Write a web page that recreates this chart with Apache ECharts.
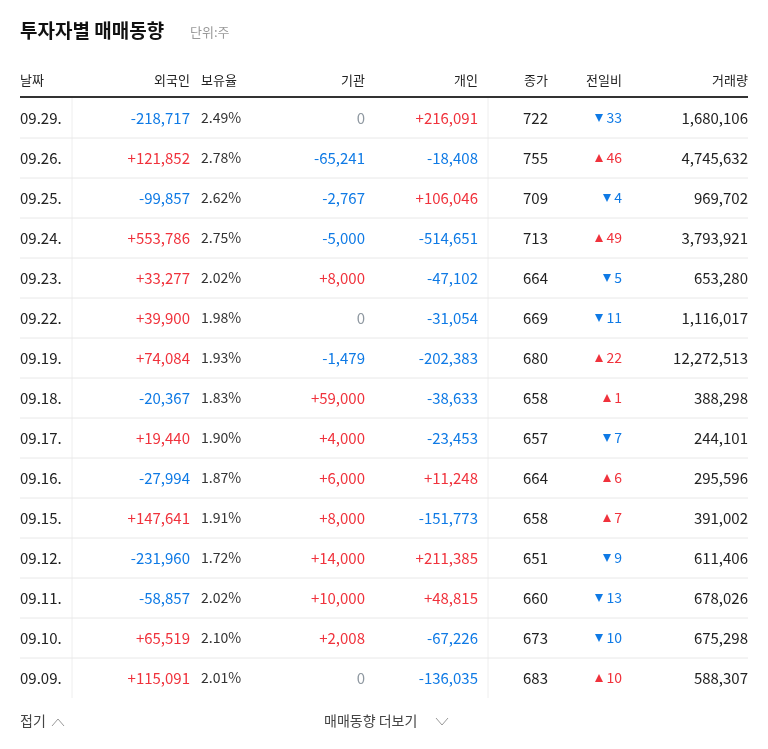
<!DOCTYPE html>
<html><head><meta charset="utf-8">
<script src="https://cdn.jsdelivr.net/npm/echarts@6/dist/echarts.min.js"></script>
<style>html,body{margin:0;background:#fff}#c{width:768px;height:749px}</style>
</head><body><div id="c"></div>
<script>
const headers = ['날짜', '외국인', '보유율', '기관', '개인', '종가', '전일비', '거래량'];
const dates = ['09.29.', '09.26.', '09.25.', '09.24.', '09.23.', '09.22.', '09.19.', '09.18.', '09.17.', '09.16.', '09.15.', '09.12.', '09.11.', '09.10.', '09.09.'];
const foreign = [-218717, 121852, -99857, 553786, 33277, 39900, 74084, -20367, 19440, -27994, 147641, -231960, -58857, 65519, 115091];
const holding = ['2.49%', '2.78%', '2.62%', '2.75%', '2.02%', '1.98%', '1.93%', '1.83%', '1.90%', '1.87%', '1.91%', '1.72%', '2.02%', '2.10%', '2.01%'];
const institution = [0, -65241, -2767, -5000, 8000, 0, -1479, 59000, 4000, 6000, 8000, 14000, 10000, 2008, 0];
const individual = [216091, -18408, 106046, -514651, -47102, -31054, -202383, -38633, -23453, 11248, -151773, 211385, 48815, -67226, -136035];
const close = [722, 755, 709, 713, 664, 669, 680, 658, 657, 664, 658, 651, 660, 673, 683];
const change = [-33, 46, -4, 49, -5, -11, 22, 1, -7, 6, 7, -9, -13, -10, 10];
const volume = [1680106, 4745632, 969702, 3793921, 653280, 1116017, 12272513, 388298, 244101, 295596, 391002, 611406, 678026, 675298, 588307];

const RED = '#f0323c', BLUE = '#0f7ae5', GRAY = '#8e97a0', TXT = '#222';
const FONT = '"Noto Sans CJK KR", sans-serif';
const fmt = v => v.toLocaleString('en-US');
const signed = v => v === 0 ? '0' : (v > 0 ? '+' : '-') + fmt(Math.abs(v));
const col = v => v > 0 ? RED : v < 0 ? BLUE : GRAY;

const top0 = 98, rowH = 40;
const g = [];
function t(x, y, text, color, align, size, weight) {
  g.push({type: 'text', x: x, y: y, style: {text: String(text), fill: color,
    align: align || 'left', textAlign: align || 'left', verticalAlign: 'middle', textVerticalAlign: 'middle',
    font: (weight || 'normal') + ' ' + (size || 15) + 'px ' + FONT}});
}
function line(x1, y1, x2, y2, color, w) {
  g.push({type: 'line', shape: {x1: x1, y1: y1, x2: x2, y2: y2}, style: {stroke: color, lineWidth: w}});
}
// 제목
t(20, 31, '투자자별 매매동향', '#111', 'left', 19, 'bold');
t(190, 32, '단위:주', '#999', 'left', 13);
// 헤더
const hx = [20, 190, 201, 365, 478, 548, 622, 748];
const ha = ['left', 'right', 'left', 'right', 'right', 'right', 'right', 'right'];
headers.forEach((h, i) => t(hx[i], 80, h, TXT, ha[i], 13));
line(20, 97, 748, 97, '#333', 2);
line(72, 98, 72, top0 + rowH * dates.length, '#eee', 1);
line(488, 98, 488, top0 + rowH * dates.length, '#eee', 1);
dates.forEach((d, i) => {
  const y = top0 + rowH * i + rowH / 2;
  if (i < dates.length - 1) line(20, top0 + rowH * (i + 1), 748, top0 + rowH * (i + 1), '#e8e8e8', 1);
  t(20, y, d, TXT);
  t(190, y, signed(foreign[i]), col(foreign[i]), 'right');
  t(201, y, holding[i], '#333', 'left', 14);
  t(365, y, signed(institution[i]), col(institution[i]), 'right');
  t(478, y, signed(individual[i]), col(individual[i]), 'right');
  t(548, y, close[i], TXT, 'right');
  const c = change[i];
  t(622, y, Math.abs(c), col(c), 'right', 14);
  const w = String(Math.abs(c)).length * 8 + 2;
  g.push({type: 'polygon', shape: {points: c > 0
    ? [[622 - w - 9, y + 4], [622 - w - 1, y + 4], [622 - w - 5, y - 4]]
    : [[622 - w - 9, y - 4], [622 - w - 1, y - 4], [622 - w - 5, y + 4]]}, style: {fill: col(c)}});
  t(748, y, fmt(volume[i]), TXT, 'right');
});
// 하단
t(20, 721, '접기', '#444', 'left', 14);
g.push({type: 'polyline', shape: {points: [[52, 726], [58, 719], [64, 726]]}, style: {stroke: '#999', lineWidth: 1, fill: null}});
t(324, 721, '매매동향 더보기', '#444', 'left', 14);
g.push({type: 'polyline', shape: {points: [[436, 718], [442, 725], [448, 718]]}, style: {stroke: '#999', lineWidth: 1, fill: null}});

const chart = echarts.init(document.getElementById('c'));
chart.setOption({animation: false, graphic: g});
</script></body></html>
